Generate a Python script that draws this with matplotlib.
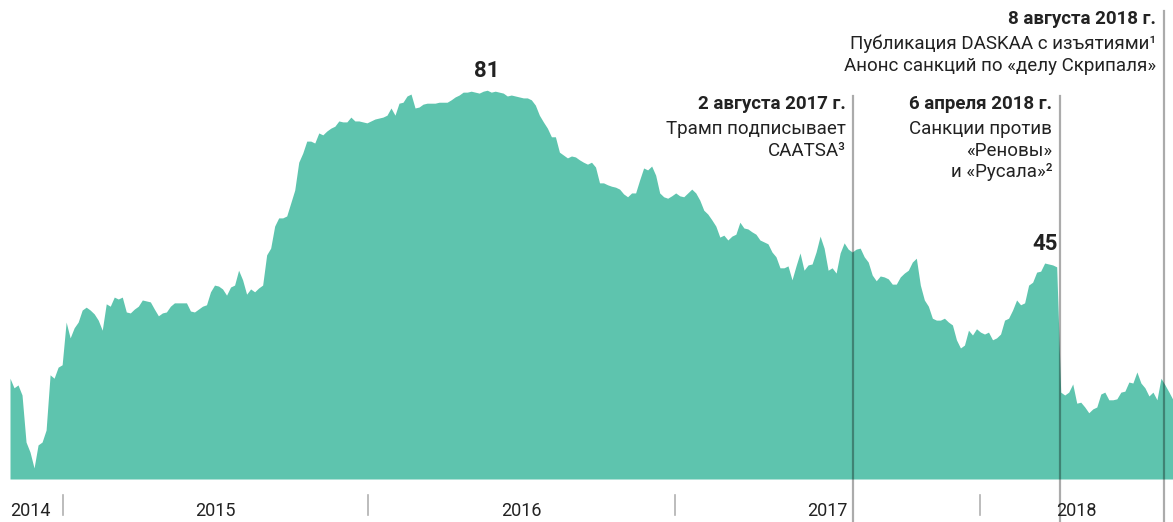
import pandas as pd
import matplotlib.pyplot as plt

plt.rcParams['font.family'] = ['Roboto', 'DejaVu Sans']

# series, evenly spaced in time
start_date = '2014-10-30'
end_date = '2018-08-19'
values = [
    21.0, 19.0, 19.6, 17.5, 7.7, 5.6, 2.3, 7.1, 7.7, 10.2,
    21.7, 21.0, 23.3, 23.8, 32.7, 29.4, 31.5, 32.7, 35.2, 35.8,
    35.2, 34.4, 33.1, 31.0, 36.5, 36.0, 37.9, 37.5, 37.9, 34.8,
    34.6, 35.4, 36.0, 37.3, 37.1, 36.9, 35.4, 34.0, 34.6, 34.8,
    36.0, 36.7, 36.7, 36.7, 36.7, 35.0, 34.8, 35.4, 36.0, 36.3,
    39.0, 40.4, 40.2, 39.6, 38.3, 40.0, 40.4, 43.5, 41.5, 38.5,
    39.6, 39.0, 39.8, 40.4, 46.7, 48.1, 52.7, 54.4, 54.4, 54.8,
    57.5, 60.2, 66.0, 67.9, 70.4, 70.4, 70.0, 72.1, 71.7, 72.5,
    73.1, 73.5, 74.6, 74.4, 74.4, 75.4, 74.6, 74.6, 74.4, 74.2,
    74.6, 75.0, 75.2, 75.4, 75.8, 77.3, 75.8, 78.3, 78.5, 79.8,
    80.2, 77.3, 77.5, 78.1, 78.3, 78.3, 78.3, 78.5, 78.5, 78.5,
    79.0, 79.6, 80.0, 80.6, 80.6, 80.8, 80.6, 80.4, 80.8, 81.0,
    80.6, 80.8, 80.6, 80.4, 79.8, 80.0, 79.8, 79.6, 79.4, 79.4,
    79.0, 77.9, 75.8, 74.4, 73.1, 71.3, 71.3, 68.1, 67.5, 66.9,
    67.3, 67.1, 66.5, 66.0, 65.6, 66.0, 65.0, 61.7, 61.7, 61.3,
    61.0, 60.8, 60.4, 59.4, 58.8, 59.6, 59.6, 62.3, 64.8, 64.4,
    65.2, 63.3, 59.6, 58.8, 58.5, 59.0, 59.6, 59.0, 58.8, 59.6,
    60.4, 59.6, 58.1, 56.0, 55.2, 54.0, 52.7, 50.4, 50.8, 49.8,
    50.6, 51.0, 53.5, 52.3, 52.1, 51.5, 51.0, 49.8, 49.4, 49.0,
    47.3, 46.3, 44.0, 44.0, 44.4, 41.5, 44.4, 47.1, 43.5, 44.6,
    44.8, 47.3, 50.6, 48.1, 43.5, 44.0, 42.9, 47.1, 49.2, 47.9,
    47.3, 47.9, 48.1, 46.3, 45.2, 42.5, 41.3, 42.3, 42.1, 41.7,
    40.6, 40.6, 42.1, 42.9, 43.5, 45.2, 46.0, 40.4, 37.3, 36.0,
    33.5, 33.1, 33.1, 33.5, 32.7, 32.1, 29.0, 27.3, 27.9, 31.0,
    30.0, 31.3, 30.6, 30.2, 30.6, 29.0, 29.4, 30.2, 33.1, 33.5,
    35.2, 37.3, 36.3, 36.7, 40.4, 41.0, 43.1, 43.3, 45.0, 44.8,
    44.6, 44.2, 18.1, 17.5, 18.1, 19.8, 15.8, 16.0, 15.0, 13.8,
    14.6, 15.0, 17.7, 18.1, 16.5, 16.5, 16.7, 18.1, 18.3, 20.2,
    20.0, 22.3, 20.0, 19.0, 17.3, 18.1, 16.5, 21.0, 19.6, 18.1,
    16.5,
]
dates = pd.date_range(start_date, end_date, periods=len(values))

years = [2014, 2015, 2016, 2017, 2018]
x_end = pd.Timestamp(end_date)

event_dates = ['2017-08-02', '2018-04-06', '2018-08-08']
event_titles = ['2 августа 2017 г.', '6 апреля 2018 г.', '8 августа 2018 г.']
event_texts = [
    ['Трамп подписывает', 'CAATSA³'],
    ['Санкции против', '«Реновы»', 'и «Русала»²'],
    ['Публикация DASKAA с изъятиями¹', 'Анонс санкций по «делу Скрипаля»'],
]
event_top = [0.80, 0.80, 0.978]   # where each marker line starts (axes fraction)

fill_color = '#5ec4ae'
text_color = '#222222'

fig = plt.figure(figsize=(11.73, 5.22), dpi=100)
ax = fig.add_axes([10 / 1173, 43 / 522, 1 - 10 / 1173, 479 / 522])

s = pd.Series(values, index=dates)
ax.fill_between(s.index, s.values, 0, color=fill_color, linewidth=0)
ax.set_xlim(s.index[0], x_end)
ax.set_ylim(0, 99.8)
ax.axis('off')

# peak labels
peaks = [s.idxmax(), s['2018-01-01':'2018-04-05'].idxmax()]
for d in peaks:
    ax.annotate(f'{s[d]:.0f}', xy=(d, s[d]), xytext=(0, 6), textcoords='offset points',
                ha='center', va='bottom', fontsize=16, fontweight='bold', color=text_color)

# year separators and labels
for y in years:
    d0 = pd.Timestamp(f'{y}-01-01')
    d1 = min(pd.Timestamp(f'{y + 1}-01-01'), x_end)
    if y > years[0]:
        ax.axvline(d0, ymin=-0.075, ymax=-0.033, color='#b0b0b0', lw=1.2, clip_on=False)
        ax.text(d0 + (d1 - d0) / 2, -0.067, str(y), transform=ax.get_xaxis_transform(),
                ha='center', va='center', fontsize=13, color=text_color)
    else:
        ax.text(s.index[0], -0.067, str(y), transform=ax.get_xaxis_transform(),
                ha='left', va='center', fontsize=13, color=text_color)

# events
for d, title, lines, top in zip(event_dates, event_titles, event_texts, event_top):
    d = pd.Timestamp(d)
    ax.axvline(d, ymin=-0.1, ymax=top, color='black', alpha=0.33, lw=1.6, clip_on=False)
    y0 = top - 0.018
    ax.annotate(title, xy=(d, y0), xycoords=('data', 'axes fraction'), xytext=(-5.5, 0),
                textcoords='offset points', ha='right', va='center',
                fontsize=13.5, fontweight='bold', color=text_color)
    for i, line in enumerate(lines):
        ax.annotate(line, xy=(d, y0 - 0.052 - 0.045 * i), xycoords=('data', 'axes fraction'),
                    xytext=(-5.5, 0), textcoords='offset points', ha='right', va='center',
                    fontsize=13.5, color=text_color)

fig.savefig('out.png', dpi=100)
